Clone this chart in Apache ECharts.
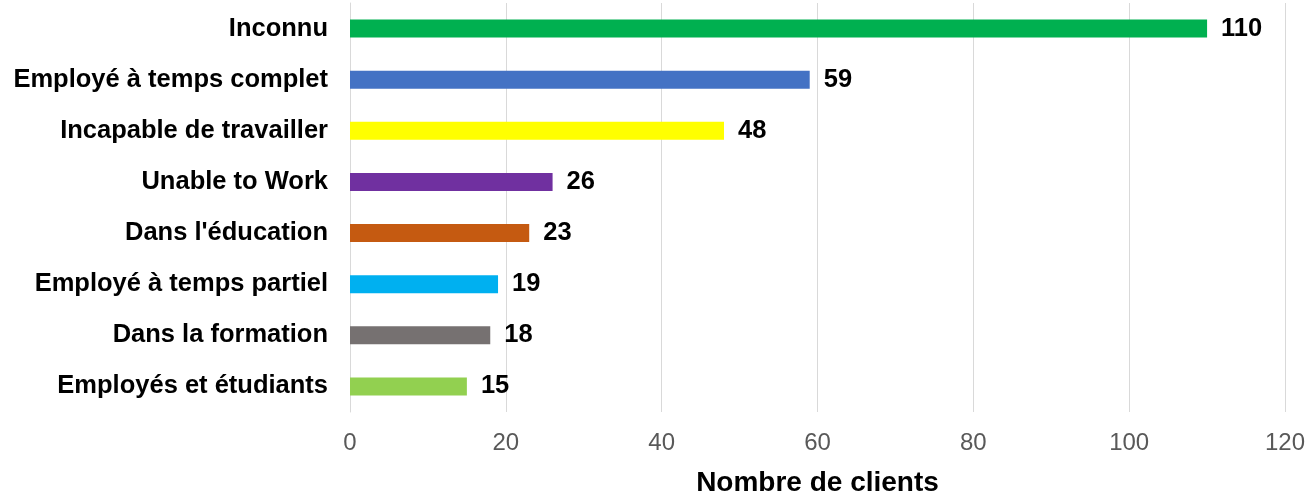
<!DOCTYPE html>
<html>
<head>
<meta charset="utf-8">
<script src="https://cdn.jsdelivr.net/npm/echarts@6/dist/echarts.min.js"></script>
<style>
  html, body { margin: 0; padding: 0; background: #fff; }
  #chart { width: 1310px; height: 496px; }
</style>
</head>
<body>
<div id="chart"></div>
<script>
// Client employment status counts
const categories = [
  "Inconnu",
  "Employé à temps complet",
  "Incapable de travailler",
  "Unable to Work",
  "Dans l'éducation",
  "Employé à temps partiel",
  "Dans la formation",
  "Employés et étudiants"
];
const values = [110, 59, 48, 26, 23, 19, 18, 15];
const barColors = ["#00b050", "#4472c4", "#ffff00", "#7030a0", "#c55a11", "#00b0f0", "#767171", "#92d050"];
const xTicks = [0, 20, 40, 60, 80, 100, 120];

const FONT = "Liberation Sans, Arial, sans-serif";

const chart = echarts.init(document.getElementById("chart"));
chart.setOption({
  animation: false,
  grid: { left: 350, right: 25, top: 3, bottom: 84, containLabel: false, outerBoundsMode: "none" },
  xAxis: {
    type: "value",
    min: xTicks[0],
    max: xTicks[xTicks.length - 1],
    interval: 20,
    axisLine: { show: false },
    axisTick: { show: false },
    splitLine: { show: true, lineStyle: { color: "#d9d9d9", width: 1 } },
    axisLabel: { color: "#595959", fontSize: 24, fontFamily: FONT, margin: 19 },
    name: "Nombre de clients",
    nameLocation: "middle",
    nameGap: 57,
    nameTextStyle: { color: "#000", fontSize: 28, fontWeight: "bold", fontFamily: FONT }
  },
  yAxis: {
    type: "category",
    data: categories,
    inverse: true,
    axisLine: { show: true, lineStyle: { color: "#d9d9d9", width: 1 } },
    axisTick: { show: false },
    axisLabel: { color: "#000", fontSize: 25.5, fontWeight: "bold", fontFamily: FONT, margin: 22 }
  },
  series: [{
    type: "bar",
    data: values.map((v, i) => ({ value: v, itemStyle: { color: barColors[i] } })),
    barWidth: 18,
    label: {
      show: true,
      position: "right",
      distance: 14,
      color: "#000",
      fontSize: 25.5,
      fontWeight: "bold",
      fontFamily: FONT
    }
  }]
});
</script>
</body>
</html>
